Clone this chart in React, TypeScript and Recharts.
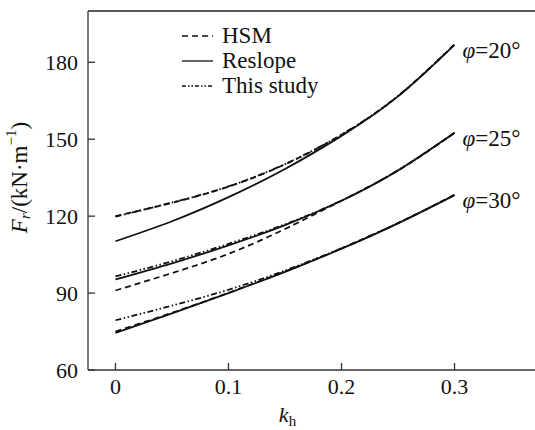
import React from "react";
import { LineChart, Line, XAxis, YAxis, ReferenceLine, Label } from "recharts";

const FONT = "'Liberation Serif', Tinos, 'Times New Roman', serif";

// seismic coefficient k_h
const kh = [0, 0.05, 0.1, 0.15, 0.2, 0.25, 0.3];

// phi = 20
const hsm20 = [120, 125.2, 131.5, 140.2, 151.7, 166.8, 187];
const reslope20 = [110.2, 118, 127.4, 138.4, 151.3, 166.7, 186.8];
const study20 = [119.8, 125.3, 131.6, 140.3, 151.8, 166.9, 187];

// phi = 25
const hsm25 = [91, 97.8, 105.3, 115, 126, 137.8, 152.5];
const reslope25 = [95.3, 101.6, 108.6, 116.5, 126, 137.8, 152.5];
const study25 = [96.5, 102.4, 109.2, 116.8, 126.1, 137.9, 152.5];

// phi = 30
const hsm30 = [75, 82.3, 90.1, 98.4, 107.4, 117.3, 128.3];
const reslope30 = [74.5, 82.1, 90, 98.3, 107.3, 117.2, 128.2];
const study30 = [79.4, 85.1, 91.3, 98.8, 107.5, 117.3, 128.2];

const xTicks = [0, 0.1, 0.2, 0.3];
const yTicks = [60, 90, 120, 150, 180];
const phiLabels = ["φ=20°", "φ=25°", "φ=30°"];

const DASHED = "6 4";
const DASHDOT = "6 2.5 1.5 2.5 1.5 2.5";

const legendItems = [
  { name: "HSM", dash: DASHED },
  { name: "Reslope", dash: undefined },
  { name: "This study", dash: "4 2 1.5 2 1.5 2" },
];

const data = kh.map((k, i) => ({
  kh: k,
  hsm20: hsm20[i],
  reslope20: reslope20[i],
  study20: study20[i],
  hsm25: hsm25[i],
  reslope25: reslope25[i],
  study25: study25[i],
  hsm30: hsm30[i],
  reslope30: reslope30[i],
  study30: study30[i],
}));

// legend drawn as a plain overlay so it does not eat plot space
const LegendBox = () => (
  <div
    style={{
      position: "absolute",
      left: 178,
      top: 23,
      fontFamily: FONT,
      fontSize: 23,
      color: "#111",
      lineHeight: "25px",
    }}
  >
    {legendItems.map((it) => (
      <div key={it.name} style={{ display: "flex", alignItems: "center", height: 25 }}>
        <svg width={44} height={10}>
          <line x1={4} y1={5} x2={35} y2={5} stroke="#111" strokeWidth={1.3} strokeDasharray={it.dash} />
        </svg>
        <span>{it.name}</span>
      </div>
    ))}
  </div>
);

const endLabel = (text: string) => (props: any) => {
  const { x, y, index } = props;
  if (index !== kh.length - 1) return null;
  return (
    <text x={x + 8} y={y + 8} fontFamily={FONT} fontSize={23} fill="#111" dominantBaseline="middle">
      <tspan fontStyle="italic">{text.slice(0, 1)}</tspan>
      {text.slice(1)}
    </text>
  );
};

const YLabel = (props: any) => {
  const { viewBox } = props;
  const cx = viewBox.x + 22;
  const cy = viewBox.y + viewBox.height / 2 - 13;
  return (
    <text
      x={cx}
      y={cy}
      transform={`rotate(-90, ${cx}, ${cy})`}
      textAnchor="middle"
      dominantBaseline="middle"
      fontFamily={FONT}
      fontSize={23}
      fill="#111"
    >
      <tspan fontStyle="italic">F</tspan>
      <tspan fontStyle="italic" fontSize={15} dy={5}>r</tspan>
      <tspan dy={-5}>/(kN·m</tspan>
      <tspan fontSize={15} dy={-9}>−1</tspan>
      <tspan dy={9}>)</tspan>
    </text>
  );
};

const XLabel = (props: any) => {
  const { viewBox } = props;
  const cx = viewBox.x + viewBox.width / 2 - 24;
  return (
    <text x={cx} y={viewBox.y + 52} textAnchor="middle" fontFamily={FONT} fontSize={22} fill="#111">
      <tspan fontStyle="italic">k</tspan>
      <tspan fontSize={15} dy={4}>h</tspan>
    </text>
  );
};

const lineProps = {
  type: "natural" as const,
  stroke: "#111",
  strokeWidth: 1.8,
  dot: false,
  isAnimationActive: false,
};

export default function App() {
  return (
    <div style={{ position: "absolute", left: 0, top: 0, width: 535, height: 430, background: "#fff" }}>
      <LineChart width={535} height={430} data={data} margin={{ top: 11, right: 0, bottom: 0, left: 0 }}>
        <XAxis
          dataKey="kh"
          type="number"
          domain={[-0.0243, 0.3712]}
          ticks={xTicks}
          allowDataOverflow
          height={60}
          tickSize={-7}
          tickMargin={15}
          stroke="#333"
          strokeWidth={1.3}
          tick={{ fontFamily: FONT, fontSize: 22, fill: "#111" }}
          tickFormatter={(v: number) => String(v)}
        >
          <Label content={<XLabel />} />
        </XAxis>
        <YAxis
          type="number"
          domain={[60, 200]}
          ticks={yTicks}
          allowDataOverflow
          width={88}
          tickSize={-7}
          tickMargin={17}
          stroke="#333"
          strokeWidth={1.3}
          tick={{ fontFamily: FONT, fontSize: 22, fill: "#111" }}
        >
          <Label content={<YLabel />} />
        </YAxis>
        <ReferenceLine y={200} stroke="#222" strokeWidth={1.5} />
        <Line {...lineProps} dataKey="hsm20" strokeDasharray={DASHED} />
        <Line {...lineProps} dataKey="study20" strokeDasharray={DASHDOT} />
        <Line {...lineProps} dataKey="reslope20" label={endLabel(phiLabels[0])} />
        <Line {...lineProps} dataKey="hsm25" strokeDasharray={DASHED} />
        <Line {...lineProps} dataKey="study25" strokeDasharray={DASHDOT} />
        <Line {...lineProps} dataKey="reslope25" label={endLabel(phiLabels[1])} />
        <Line {...lineProps} dataKey="hsm30" strokeDasharray={DASHED} />
        <Line {...lineProps} dataKey="study30" strokeDasharray={DASHDOT} />
        <Line {...lineProps} dataKey="reslope30" label={endLabel(phiLabels[2])} />
      </LineChart>
      <LegendBox />
    </div>
  );
}
